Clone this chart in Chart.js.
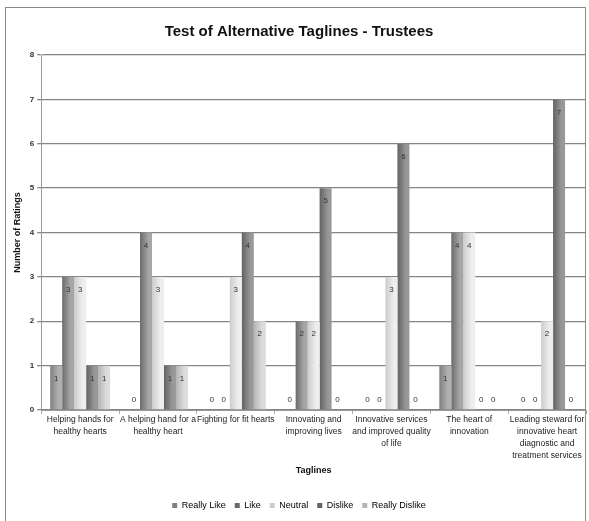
<!DOCTYPE html>
<html><head><meta charset="utf-8">
<script src="https://cdn.jsdelivr.net/npm/chart.js@4/dist/chart.umd.min.js"></script>
<style>
html,body{margin:0;padding:0;background:#fff;}
#wrap{position:relative;width:589px;height:521px;}
#frame{position:absolute;left:5px;top:7px;width:581px;height:520px;border:1px solid #8a8a8a;box-sizing:border-box;}
canvas{position:absolute;left:0;top:0;}
</style></head>
<body>
<div id="wrap"><div id="frame"></div><canvas id="c" width="589" height="521"></canvas></div>
<script>
const categories = [
  ["Helping hands for","healthy hearts"],
  ["A helping hand for a","healthy heart"],
  ["Fighting for fit hearts"],
  ["Innovating and","improving lives"],
  ["Innovative services","and improved quality","of life"],
  ["The heart of","innovation"],
  ["Leading steward for","innovative heart","diagnostic and","treatment services"]
];
const seriesNames = ["Really Like","Like","Neutral","Dislike","Really Dislike"];
const reallyLike   = [1,0,0,0,0,1,0];
const like         = [3,4,0,2,0,4,0];
const neutral      = [3,3,3,2,3,4,2];
const dislike      = [1,1,4,5,6,0,7];
const reallyDislike= [1,1,2,0,0,0,0];
const yTicks = [0,1,2,3,4,5,6,7,8];

const FONT = "'Liberation Sans Narrow','Arial Narrow','Liberation Sans',Arial,sans-serif";
const colorPairs = [
  ["#808080","#b0b0b0"],
  ["#6a6a6a","#a6a6a6"],
  ["#cccccc","#eeeeee"],
  ["#626262","#989898"],
  ["#b4b4b4","#dcdcdc"]
];
const CAT_PCT = 0.77;
function grad(i){
  return function(ctx){
    const chart = ctx.chart, xs = chart.scales && chart.scales.x;
    if(!xs || ctx.dataIndex===undefined) return colorPairs[i][1];
    const n = categories.length;
    const cw = (xs.right - xs.left)/n;
    const bw = cw*CAT_PCT/seriesNames.length;
    const cx = xs.getPixelForValue(ctx.dataIndex);
    const l = cx - cw*CAT_PCT/2 + i*bw;
    if(!isFinite(l) || !isFinite(bw) || bw<=0) return colorPairs[i][1];
    const g = chart.ctx.createLinearGradient(l,0,l+bw,0);
    g.addColorStop(0,colorPairs[i][0]);
    g.addColorStop(0.7,colorPairs[i][1]);
    g.addColorStop(1,colorPairs[i][1]);
    return g;
  };
}
const allData=[reallyLike,like,neutral,dislike,reallyDislike];
const valueLabels = {
  id:'valueLabels',
  afterDatasetsDraw(chart){
    const c=chart.ctx; c.save();
    c.font="8px "+FONT; c.fillStyle="#333"; c.textAlign="center"; c.textBaseline="middle";
    chart.data.datasets.forEach((ds,di)=>{
      chart.getDatasetMeta(di).data.forEach((el,j)=>{
        const v=ds.data[j];
        const y = v===0 ? el.base-10 : el.y+13;
        c.fillText(String(v), el.x, y);
      });
    });
    c.restore();
  }
};
new Chart(document.getElementById('c'),{
  type:'bar',
  data:{labels:categories,datasets:seriesNames.map((n,i)=>({label:n,data:allData[i],backgroundColor:grad(i),borderWidth:0,categoryPercentage:CAT_PCT,barPercentage:1}))},
  options:{
    responsive:false,animation:false,
    layout:{padding:{left:12,right:3,top:9,bottom:1}},
    plugins:{
      title:{display:true,text:"Test of Alternative Taglines - Trustees",color:"#111",font:{family:FONT,size:15,weight:'bold'},padding:{top:14,bottom:14}},
      legend:{position:'bottom',labels:{boxWidth:5,boxHeight:5,color:"#333",font:{family:FONT,size:9},padding:9,generateLabels(chart){return seriesNames.map((n,i)=>({text:n,fillStyle:colorPairs[i][0],strokeStyle:colorPairs[i][0],lineWidth:0,datasetIndex:i,hidden:false}));}}},
      tooltip:{enabled:false}
    },
    scales:{
      x:{grid:{display:true,drawOnChartArea:false,drawTicks:true,tickLength:4,color:"#aaa",offset:true},
         border:{color:"#999",width:1},
         afterFit(s){s.height=82;},
         ticks:{color:"#222",font:{family:FONT,size:8.5,lineHeight:1.4},maxRotation:0,autoSkip:false,padding:0},
         title:{display:true,text:"Taglines",color:"#111",font:{family:FONT,size:9,weight:'bold'},padding:{top:4,bottom:16}}},
      y:{min:0,max:8,
         afterBuildTicks(s){s.ticks=yTicks.map(v=>({value:v}));},
         grid:{color:"#858585",lineWidth:1.3,tickLength:4},
         border:{color:"#999",width:1},
         ticks:{color:"#333",font:{family:FONT,size:8,weight:'bold'},padding:3},
         title:{display:true,text:"Number of Ratings",color:"#111",font:{family:FONT,size:9,weight:'bold'},padding:{top:0,bottom:4}}}
    }
  },
  plugins:[valueLabels]
});
</script>
</body></html>
